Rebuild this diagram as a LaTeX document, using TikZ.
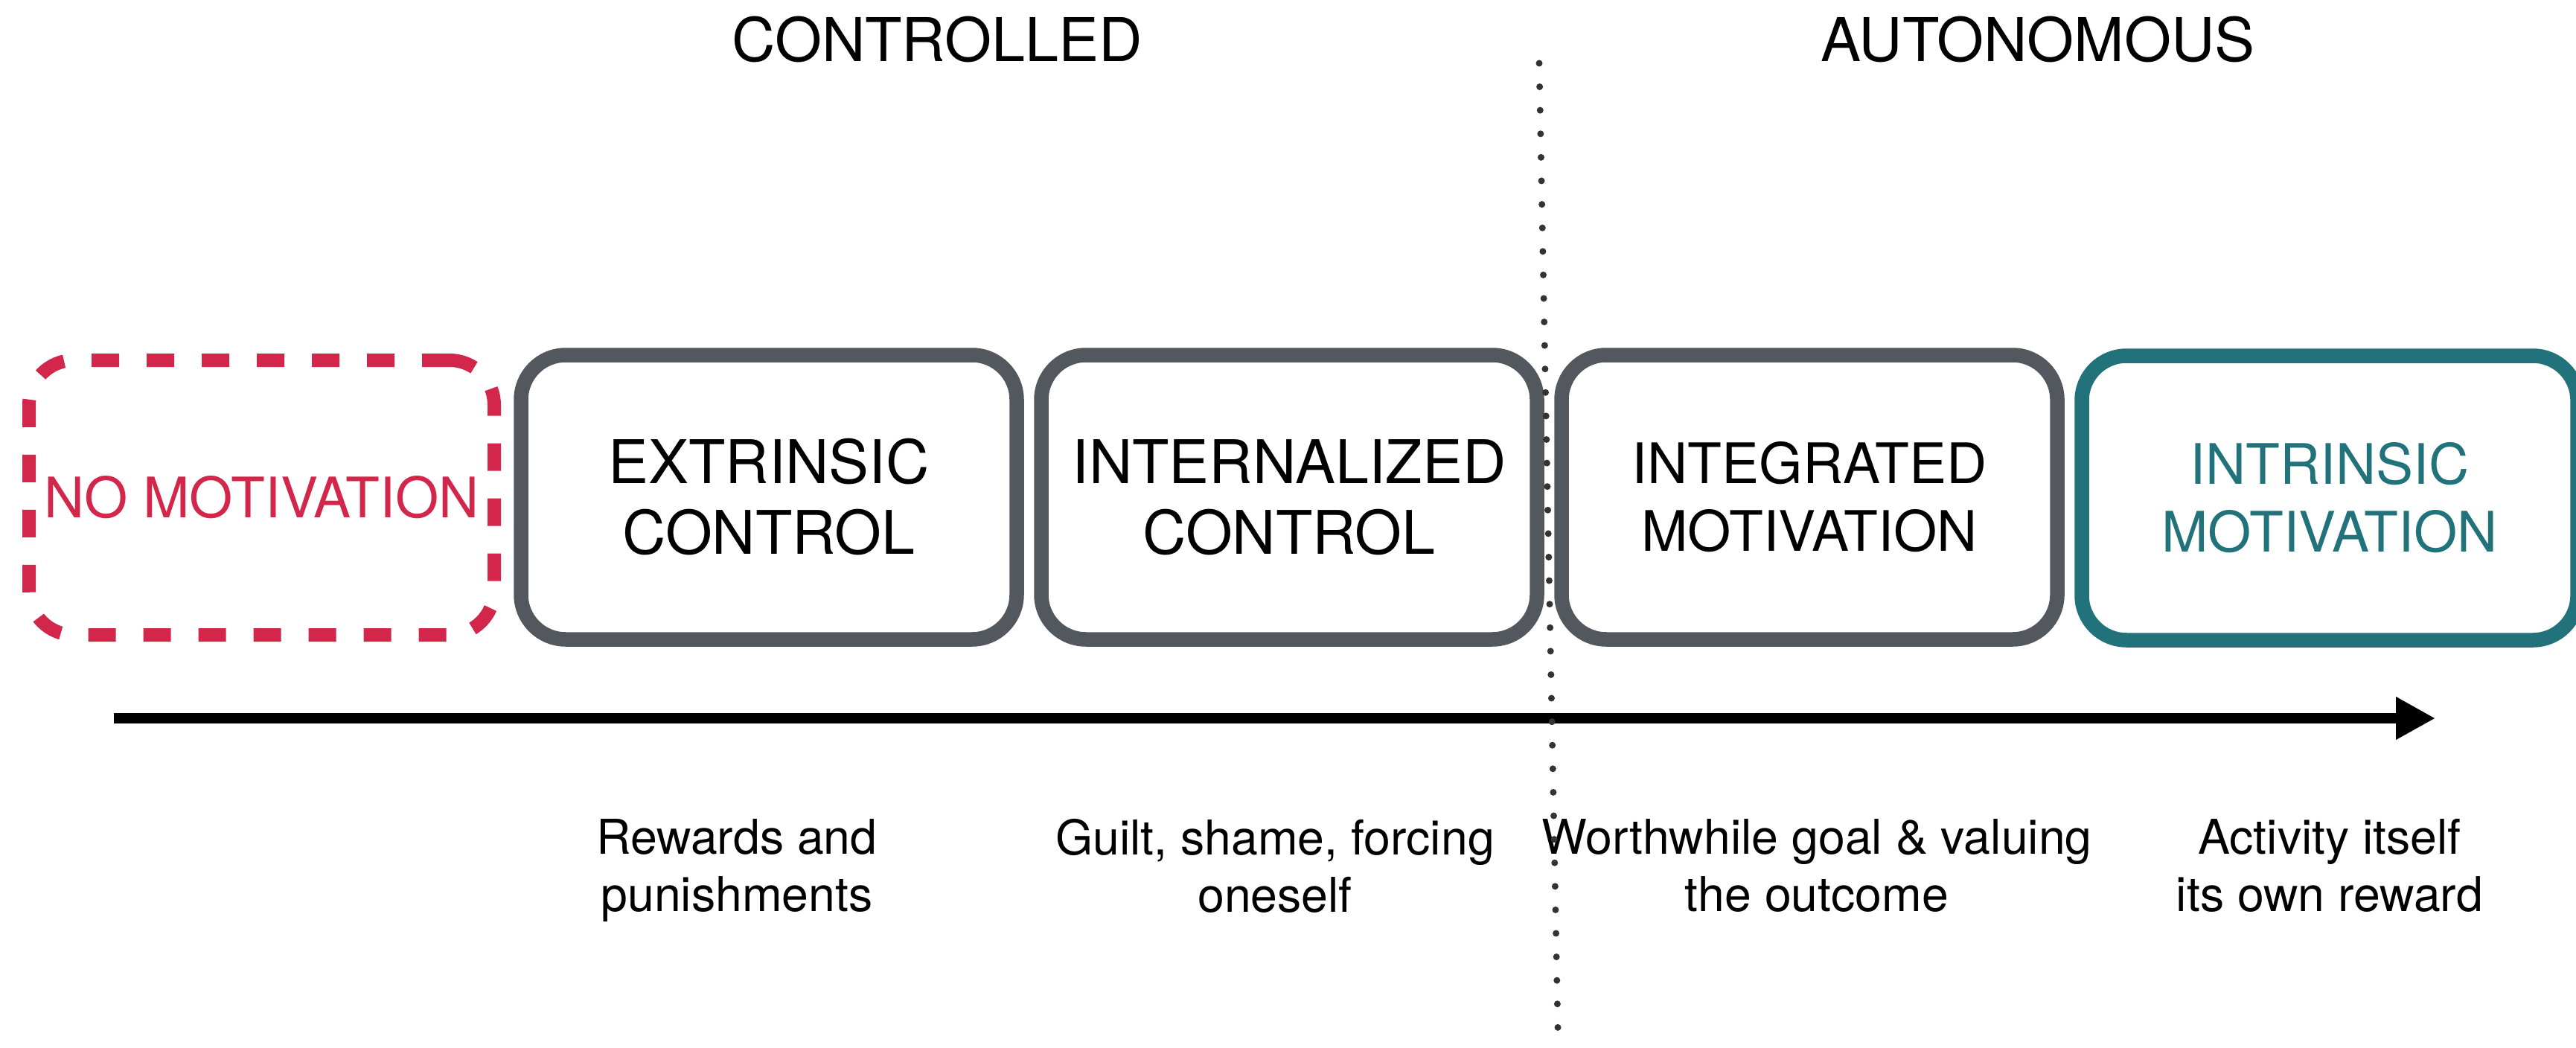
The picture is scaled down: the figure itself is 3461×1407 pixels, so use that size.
\documentclass[tikz,border=0pt]{standalone}
\usepackage{fontspec}
\setmainfont{TeX Gyre Heros}
\usetikzlibrary{arrows.meta}
\definecolor{nomotred}{HTML}{D3264B}
\definecolor{boxgray}{HTML}{53585F}
\definecolor{intrteal}{HTML}{21727A}
\definecolor{dotgray}{HTML}{333333}
\begin{document}
\begin{tikzpicture}[x=0.5pt,y=-0.5pt,
  heading/.style={anchor=base, inner sep=0pt, font=\fontsize{40.5}{48}\selectfont},
  stagebox/.style={draw=boxgray, line width=9.75pt, rounded corners=30pt,
    minimum width=333pt, minimum height=191pt, inner sep=0pt, align=center,
    font=\fontsize{40.4}{47.5}\selectfont},
  colourbox/.style={stagebox, font=\fontsize{37.5}{45.5}\selectfont},
  nobox/.style={colourbox, draw=nomotred, text=nomotred, line width=9pt,
    dash pattern=on 18.5pt off 18.5pt, minimum width=312.5pt, minimum height=184.5pt},
  note/.style={anchor=north, inner sep=0pt, align=center,
    font=\fontsize{32.2}{38.5}\selectfont}]
\useasboundingbox (0,0) rectangle (3461,1407);

% group headings
\node[heading] (controlled) at (1259,83) {CONTROLLED};
\node[heading] (autonomous) at (2738,83) {AUTONOMOUS};

% the five stages
\node[nobox] (none) at (351.5,668.5) {NO MOTIVATION};
\node[stagebox] (extrinsic) at (1033,668) {EXTRINSIC\\CONTROL};
\node[stagebox] (internal) at (1732,668) {INTERNALIZED\\CONTROL};
\node[colourbox] (integrated) at (2431,668) {INTEGRATED\\MOTIVATION};
\node[colourbox, draw=intrteal, text=intrteal] (intrinsic) at (3130,669) {INTRINSIC\\MOTIVATION};

% continuum arrow
\coordinate (axisstart) at (153,965);
\coordinate (axisend) at (3272,965);
\draw[line width=6.75pt, -{Triangle[length=26.5pt,width=27pt]}] (axisstart) -- (axisend);

% descriptions under the axis
\node[note] (rewards) at (990,1100) {Rewards and\\punishments};
\node[note] (guilt) at (1713,1100) {Guilt, shame, forcing\\oneself};
\node[note] (goal) at (2441,1100) {Worthwhile goal \& valuing\\the outcome};
\node[note] (activity) at (3130,1100) {Activity itself\\its own reward};

% divider between controlled and autonomous
\coordinate (divtop) at (2068,85);
\coordinate (divbottom) at (2093,1381);
\draw[dotgray, line width=4.5pt, line cap=round, dash pattern=on 0pt off 15.8pt] (divtop) -- (divbottom);
\end{tikzpicture}
\end{document}
